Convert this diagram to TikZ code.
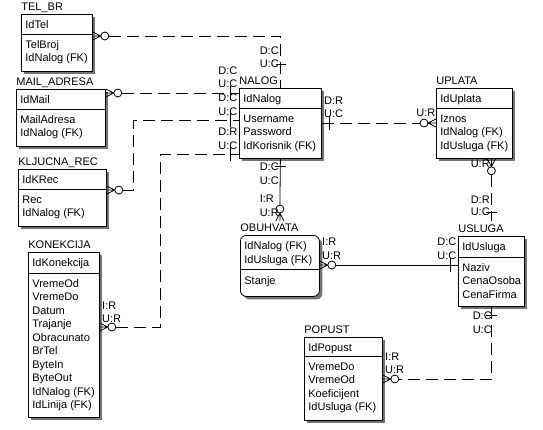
\documentclass[tikz,border=0pt]{standalone}
\usepackage{fontspec}
\setmainfont{Liberation Sans}
\usetikzlibrary{shadows}

\begin{document}
\begin{tikzpicture}
  [
    x=1pt, y=-1pt, line width=0.8pt,
    ent/.style={draw, fill=white, anchor=north west, inner sep=0,
      drop shadow={shadow xshift=3pt, shadow yshift=-3pt, fill=black!55, opacity=1}},
    enttitle/.style={anchor=base west, inner sep=0, font=\fontsize{11}{13}\selectfont},
    attr/.style={anchor=base west, inner sep=0, xshift=4pt, font=\fontsize{11}{13}\selectfont},
    lbl/.style={anchor=west, inner sep=0, font=\fontsize{11}{13}\selectfont},
    rel/.style={dash pattern=on 12pt off 6pt},
    crowzero/.pic={
      \draw (0,-4) -- (8,0) -- (0,4) (0,0) -- (8,0);
      \draw [fill=white] (12,0) circle [radius=4];
    }
  ]
  \fill [white] (0,0) rectangle (543,429);
  \useasboundingbox (0,0) rectangle (543,429);

  \node [ent, minimum width=71pt, minimum height=57pt] (telbr) at (21,14) {};
  \node [enttitle] (telbrT) at ([yshift=4]telbr.north west) {TEL\_BR};
  \node [attr] (telbrK) at ([yshift=-14]telbr.north west) {IdTel};
  \draw ([yshift=-20]telbr.north west) -- ([yshift=-20]telbr.north east);
  \foreach \txt [count=\i] in {TelBroj, {IdNalog (FK)}}{
    \node [attr] (telbr\i) at ([yshift={-34-(\i-1)*13.5}]telbr.north west) {\txt};
  }

  \node [ent, minimum width=89pt, minimum height=57pt] (mail) at (16,89) {};
  \node [enttitle] (mailT) at ([yshift=4]mail.north west) {MAIL\_ADRESA};
  \node [attr] (mailK) at ([yshift=-14]mail.north west) {IdMail};
  \draw ([yshift=-20]mail.north west) -- ([yshift=-20]mail.north east);
  \foreach \txt [count=\i] in {MailAdresa, {IdNalog (FK)}}{
    \node [attr] (mail\i) at ([yshift={-34-(\i-1)*13.5}]mail.north west) {\txt};
  }

  \node [ent, minimum width=88pt, minimum height=57pt] (klj) at (18,169) {};
  \node [enttitle] (kljT) at ([yshift=4]klj.north west) {KLJUCNA\_REC};
  \node [attr] (kljK) at ([yshift=-14]klj.north west) {IdKRec};
  \draw ([yshift=-20]klj.north west) -- ([yshift=-20]klj.north east);
  \foreach \txt [count=\i] in {Rec, {IdNalog (FK)}}{
    \node [attr] (klj\i) at ([yshift={-34-(\i-1)*13.5}]klj.north west) {\txt};
  }

  \node [ent, minimum width=71pt, minimum height=165pt] (kon) at (28,252) {};
  \node [enttitle] (konT) at ([yshift=4]kon.north west) {KONEKCIJA};
  \node [attr] (konK) at ([yshift=-14]kon.north west) {IdKonekcija};
  \draw ([yshift=-21]kon.north west) -- ([yshift=-21]kon.north east);
  \foreach \txt [count=\i] in {VremeOd, VremeDo, Datum, Trajanje, Obracunato, BrTel,
      ByteIn, ByteOut, {IdNalog (FK)}, {IdLinija (FK)}}{
    \node [attr] (kon\i) at ([yshift={-35-(\i-1)*13.5}]kon.north west) {\txt};
  }

  \node [ent, minimum width=82pt, minimum height=70pt] (nalog) at (239,88) {};
  \node [enttitle] (nalogT) at ([yshift=4]nalog.north west) {NALOG};
  \node [attr] (nalogK) at ([yshift=-14]nalog.north west) {IdNalog};
  \draw ([yshift=-20]nalog.north west) -- ([yshift=-20]nalog.north east);
  \foreach \txt [count=\i] in {Username, Password, {IdKorisnik (FK)}}{
    \node [attr] (nalog\i) at ([yshift={-34-(\i-1)*13.5}]nalog.north west) {\txt};
  }

  \node [ent, minimum width=76pt, minimum height=70pt] (uplata) at (436,88) {};
  \node [enttitle] (uplataT) at ([yshift=4]uplata.north west) {UPLATA};
  \node [attr] (uplataK) at ([yshift=-14]uplata.north west) {IdUplata};
  \draw ([yshift=-20]uplata.north west) -- ([yshift=-20]uplata.north east);
  \foreach \txt [count=\i] in {Iznos, {IdNalog (FK)}, {IdUsluga (FK)}}{
    \node [attr] (uplata\i) at ([yshift={-34-(\i-1)*13.5}]uplata.north west) {\txt};
  }

  \node [ent, rounded corners=6pt, minimum width=79pt, minimum height=61pt] (obuh) at (240,235) {};
  \node [enttitle] (obuhT) at ([yshift=4]obuh.north west) {OBUHVATA};
  \node [attr] (obuhK1) at ([yshift=-14]obuh.north west) {IdNalog (FK)};
  \node [attr] (obuhK2) at ([yshift=-28]obuh.north west) {IdUsluga (FK)};
  \draw ([yshift=-34]obuh.north west) -- ([yshift=-34]obuh.north east);
  \node [attr] (obuh1) at ([yshift=-49]obuh.north west) {Stanje};

  \node [ent, minimum width=66pt, minimum height=70pt] (usluga) at (458,236) {};
  \node [enttitle] (uslugaT) at ([yshift=4]usluga.north west) {USLUGA};
  \node [attr] (uslugaK) at ([yshift=-14]usluga.north west) {IdUsluga};
  \draw ([yshift=-21]usluga.north west) -- ([yshift=-21]usluga.north east);
  \foreach \txt [count=\i] in {Naziv, CenaOsoba, CenaFirma}{
    \node [attr] (usluga\i) at ([yshift={-35-(\i-1)*13.5}]usluga.north west) {\txt};
  }

  \node [ent, minimum width=78pt, minimum height=83pt] (popust) at (304,337) {};
  \node [enttitle] (popustT) at ([yshift=4]popust.north west) {POPUST};
  \node [attr] (popustK) at ([yshift=-14]popust.north west) {IdPopust};
  \draw ([yshift=-19]popust.north west) -- ([yshift=-19]popust.north east);
  \foreach \txt [count=\i] in {VremeDo, VremeOd, Koeficijent, {IdUsluga (FK)}}{
    \node [attr] (popust\i) at ([yshift={-33-(\i-1)*13.5}]popust.north west) {\txt};
  }

  % TEL_BR - NALOG
  \pic at ([yshift=-22]telbr.north east) {crowzero};
  \draw [rel] ([xshift=16,yshift=-22]telbr.north east) -| (nalog.north);
  \draw ([xshift=-4,yshift=24]nalog.north) -- ++(10,0);
  \node [lbl] (r1d) at ([xshift=-21,yshift=37]nalog.north) {D:C};
  \node [lbl] (r1u) at ([xshift=-21,yshift=24]nalog.north) {U:C};

  % MAIL_ADRESA - NALOG
  \pic at ([yshift=-4]mail.north east) {crowzero};
  \draw [rel] ([xshift=16,yshift=-4]mail.north east) -- ([yshift=-5]nalog.north west);
  \draw ([xshift=-9,yshift=2]nalog.north west) -- ++(0,14);
  \node [lbl] (r2d) at ([xshift=-21,yshift=17]nalog.north west) {D:C};
  \node [lbl] (r2u) at ([xshift=-21,yshift=4]nalog.north west) {U:C};

  % KLJUCNA_REC - NALOG
  \pic at ([yshift=-21]klj.north east) {crowzero};
  \draw [rel] ([xshift=16,yshift=-21]klj.north east) -- ++(11,0) |- ([yshift=-32]nalog.north west);
  \draw ([xshift=-9,yshift=-25]nalog.north west) -- ++(0,14);
  \node [lbl] (r3d) at ([xshift=-21,yshift=-10]nalog.north west) {D:C};
  \node [lbl] (r3u) at ([xshift=-21,yshift=-24]nalog.north west) {U:C};

  % KONEKCIJA - NALOG
  \pic at ([yshift=-75]kon.north east) {crowzero};
  \draw [rel] ([xshift=16,yshift=-75]kon.north east) -- ++(45,0) |- ([yshift=-66]nalog.north west);
  \draw ([xshift=-9,yshift=-59]nalog.north west) -- ++(0,14);
  \node [lbl] (r4d) at ([xshift=-21,yshift=-44]nalog.north west) {D:R};
  \node [lbl] (r4u) at ([xshift=-21,yshift=-58]nalog.north west) {U:C};
  \node [lbl] (r4i) at ([xshift=2,yshift=-54]kon.north east) {I:R};
  \node [lbl] (r4r) at ([xshift=2,yshift=-67]kon.north east) {U:R};

  % NALOG - UPLATA
  \pic [rotate=180] at ([yshift=-35]uplata.north west) {crowzero};
  \draw [rel] ([yshift=-35]nalog.north east) -- ([xshift=-16,yshift=-35]uplata.north west);
  \draw ([xshift=8,yshift=-28]nalog.north east) -- ++(0,14);
  \node [lbl] (r5d) at ([xshift=2,yshift=-13]nalog.north east) {D:R};
  \node [lbl] (r5u) at ([xshift=2,yshift=-26]nalog.north east) {U:C};
  \node [lbl] (r5r) at ([xshift=-20,yshift=-25]uplata.north west) {U:R};

  % NALOG - OBUHVATA
  \pic [rotate=90] at ([yshift=14]obuh.north) {crowzero};
  \draw (nalog.south) -- ([yshift=30]obuh.north);
  \draw ([xshift=-5,yshift=-8]nalog.south) -- ++(11,0);
  \node [lbl] (r6d) at ([xshift=-21,yshift=-8]nalog.south) {D:C};
  \node [lbl] (r6u) at ([xshift=-21,yshift=-22]nalog.south) {U:C};
  \node [lbl] (r6i) at ([xshift=-21,yshift=-40]nalog.south) {I:R};
  \node [lbl] (r6r) at ([xshift=-21,yshift=-54]nalog.south) {U:R};

  % OBUHVATA - USLUGA
  \pic at ([yshift=-30]obuh.north east) {crowzero};
  \draw ([xshift=16,yshift=-30]obuh.north east) -- ([yshift=-29]usluga.north west);
  \draw ([xshift=-8,yshift=-22]usluga.north west) -- ++(0,14);
  \node [lbl] (r7i) at ([xshift=2,yshift=-7]obuh.north east) {I:R};
  \node [lbl] (r7r) at ([xshift=2,yshift=-21]obuh.north east) {U:R};
  \node [lbl] (r7d) at ([xshift=-21,yshift=-6]usluga.north west) {D:C};
  \node [lbl] (r7u) at ([xshift=-21,yshift=-20]usluga.north west) {U:C};

  % UPLATA - USLUGA
  \pic [rotate=-90] at ([xshift=17]uplata.south) {crowzero};
  \draw [rel] ([xshift=17,yshift=-16]uplata.south) -- ([yshift=15]usluga.north);
  \draw ([xshift=-5,yshift=24]usluga.north) -- ++(11,0);
  \node [lbl] (r8r) at ([xshift=-4,yshift=-5]uplata.south) {U:R};
  \node [lbl] (r8d) at ([xshift=-21,yshift=36]usluga.north) {D:R};
  \node [lbl] (r8u) at ([xshift=-21,yshift=24]usluga.north) {U:C};

  % USLUGA - POPUST
  \pic at ([yshift=-42]popust.north east) {crowzero};
  \draw [rel] (usluga.south) |- ([xshift=16,yshift=-42]popust.north east);
  \draw ([xshift=-5,yshift=-9]usluga.south) -- ++(11,0);
  \node [lbl] (r9d) at ([xshift=-19,yshift=-9]usluga.south) {D:C};
  \node [lbl] (r9u) at ([xshift=-19,yshift=-23]usluga.south) {U:C};
  \node [lbl] (r9i) at ([xshift=2,yshift=-20]popust.north east) {I:R};
  \node [lbl] (r9r) at ([xshift=2,yshift=-33]popust.north east) {U:R};

\end{tikzpicture}
\end{document}
